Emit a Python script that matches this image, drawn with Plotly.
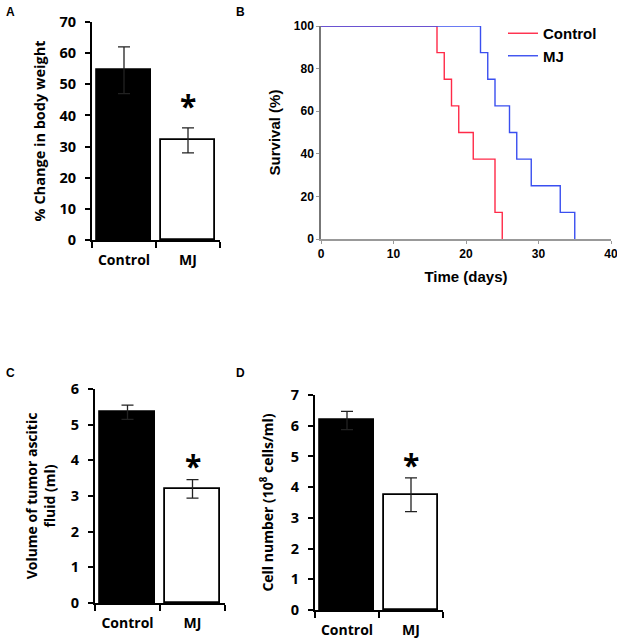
import plotly.graph_objects as go

# ---------------- data ----------------
groups = ["Control", "MJ"]

weight_mean = [54.5, 32.0]
weight_err = [7.5, 4.0]

fluid_mean = [5.35, 3.2]
fluid_err = [0.2, 0.26]

cells_mean = [6.17, 3.75]
cells_err = [0.3, 0.55]

ctrl_days = [0, 16, 17, 18, 19, 21, 24, 25]
ctrl_surv = [100, 87.5, 75, 62.5, 50, 37.5, 12.5, 0]
mj_days = [0, 22, 23, 24, 26, 27, 29, 33, 35]
mj_surv = [100, 87.5, 75, 62.5, 50, 37.5, 25, 12.5, 0]

y_ticks_a = [0, 10, 20, 30, 40, 50, 60, 70]
y_ticks_b = [0, 20, 40, 60, 80, 100]
x_ticks_b = [0, 10, 20, 30, 40]
y_ticks_c = [0, 1, 2, 3, 4, 5, 6]
y_ticks_d = [0, 1, 2, 3, 4, 5, 6, 7]

# ---------------- styling ----------------
CAL = "'Open Sans', sans-serif"
ARI = "Liberation Sans, Arial, sans-serif"
W, H = 617, 640

fig = go.Figure()


def px_x(v):
    return v / W


def px_y(v):
    return 1 - v / H


def add_bar_panel(xa, ya, means, errs, dom_x, dom_y, yrange, yticks, title,
                  title_standoff, title_size, star_shift):
    fig.add_trace(go.Bar(
        x=groups, y=means, xaxis=xa, yaxis=ya,
        width=0.85,
        marker=dict(color=["black", "white"], line=dict(color="black", width=1.8)),
        error_y=dict(type="data", array=errs, visible=True, color="#222", thickness=1.3, width=6),
        showlegend=False, hoverinfo="skip",
    ))
    xk = "xaxis" + xa[1:]
    yk = "yaxis" + ya[1:]
    fig.layout[xk] = dict(
        domain=dom_x, anchor=ya, type="category", range=[-0.5, 1.5],
        showline=True, linecolor="black", linewidth=2,
        ticks="outside", ticklen=6, tickwidth=2, tickcolor="black",
        tickson="boundaries", ticklabelstandoff=6, automargin=False,
        tickfont=dict(family=CAL, size=14, color="black", weight="bold"),
        showgrid=False, zeroline=False, fixedrange=True,
    )
    fig.layout[yk] = dict(
        domain=dom_y, anchor=xa, range=yrange, tickvals=yticks,
        showline=True, linecolor="black", linewidth=2,
        ticks="outside", ticklen=5, tickwidth=2, tickcolor="black",
        automargin=False, ticklabelstandoff=6,
        tickfont=dict(family=CAL, size=14.5, color="black", weight="bold"),
        showgrid=False, zeroline=False, fixedrange=True,
        title=dict(text=title, font=dict(family=CAL, size=title_size, color="black", weight="bold"),
                   standoff=title_standoff),
    )
    # significance star above the MJ bar
    fig.add_annotation(
        x=groups[1], y=means[1] + errs[1], xref=xa, yref=ya,
        text="*", showarrow=False, yanchor="bottom", yshift=star_shift,
        font=dict(family=CAL, size=30, color="black", weight="bold"),
    )


add_bar_panel("x", "y", weight_mean, weight_err,
              [px_x(92), px_x(220)], [px_y(240), px_y(22)], [0, 70], y_ticks_a,
              "% Change in body weight", 10, 14.5, 0)
add_bar_panel("x3", "y3", fluid_mean, fluid_err,
              [px_x(95), px_x(225)], [px_y(603), px_y(389)], [0, 6], y_ticks_c,
              "Volume of tumor ascitic<br>fluid (ml)", 12, 14, -8)
add_bar_panel("x4", "y4", cells_mean, cells_err,
              [px_x(315), px_x(443)], [px_y(610), px_y(395)], [0, 7], y_ticks_d,
              "Cell number (10<sup>8</sup> cells/ml)", 14, 14, -9)

# ---------------- survival panel ----------------
fig.add_trace(go.Scatter(
    x=ctrl_days, y=ctrl_surv, mode="lines", line=dict(shape="hv", color="#ff2a48", width=1.4),
    name="Control", xaxis="x2", yaxis="y2", cliponaxis=False, hoverinfo="skip",
))
fig.add_trace(go.Scatter(
    x=mj_days, y=mj_surv, mode="lines", line=dict(shape="hv", color="#3a4ff0", width=1.4),
    name="MJ", xaxis="x2", yaxis="y2", cliponaxis=False, hoverinfo="skip",
))

fig.layout["xaxis2"] = dict(
    domain=[px_x(321), px_x(611)], anchor="y2", range=[0, 40], tickvals=x_ticks_b,
    showline=True, linecolor="#999", linewidth=2,
    ticks="outside", ticklen=3, tickwidth=1, tickcolor="#999", automargin=False,
    ticklabeloverflow="allow",
    tickfont=dict(family=ARI, size=12, color="black", weight="bold"),
    showgrid=False, zeroline=False, fixedrange=True,
    title=dict(text="Time (days)", font=dict(family=ARI, size=15, color="black", weight="bold"),
               standoff=11),
)
fig.layout["yaxis2"] = dict(
    domain=[px_y(239), px_y(26)], anchor="x2", range=[0, 100], tickvals=y_ticks_b,
    showline=True, linecolor="#777", linewidth=1.5,
    ticks="outside", ticklen=3, tickwidth=1, tickcolor="#999", automargin=False,
    tickfont=dict(family=ARI, size=12, color="black", weight="bold"),
    showgrid=False, zeroline=False, fixedrange=True,
    title=dict(text="Survival (%)", font=dict(family=ARI, size=15, color="black", weight="bold"),
               standoff=10),
)

# ---------------- panel letters ----------------
for letter, (lx, ly) in {"A": (4, 3), "B": (234, 3), "C": (4, 364), "D": (234, 364)}.items():
    fig.add_annotation(x=px_x(lx), y=px_y(ly), xref="paper", yref="paper",
                       xanchor="left", yanchor="top", showarrow=False, text=letter,
                       font=dict(family=ARI, size=12, color="black", weight="bold"))

fig.update_layout(
    width=W, height=H, margin=dict(l=0, r=0, t=0, b=0, autoexpand=False),
    paper_bgcolor="white", plot_bgcolor="white",
    bargap=0,
    showlegend=True,
    legend=dict(x=px_x(503), y=px_y(17), xanchor="left", yanchor="top",
                bgcolor="rgba(0,0,0,0)", borderwidth=0, tracegroupgap=0,
                font=dict(family=ARI, size=15, color="black", weight="bold"),
                itemwidth=30),
)

fig.write_html(
    "out.html",
    config={"displayModeBar": False},
    post_script="document.body.style.margin='0px';document.body.style.padding='0px';"
                "document.documentElement.style.overflow='hidden';",
)
